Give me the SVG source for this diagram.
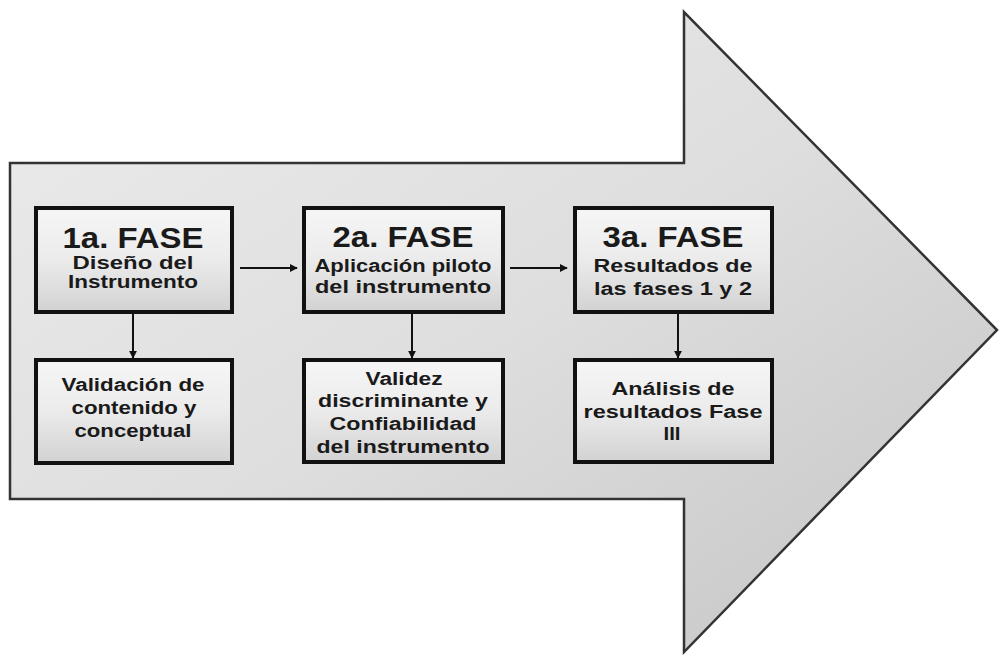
<svg xmlns="http://www.w3.org/2000/svg" width="1000" height="655" viewBox="0 0 1000 655">
<defs>
<linearGradient id="bigGrad" x1="0" y1="0" x2="1" y2="1">
<stop offset="0" stop-color="#ececec"/>
<stop offset="0.5" stop-color="#dedede"/>
<stop offset="1" stop-color="#c4c4c4"/>
</linearGradient>
<linearGradient id="boxGrad" x1="0" y1="0" x2="0" y2="1">
<stop offset="0" stop-color="#f6f6f6"/>
<stop offset="0.5" stop-color="#ebebeb"/>
<stop offset="1" stop-color="#d2d2d2"/>
</linearGradient>
<marker id="ah" viewBox="0 0 10 10" refX="9" refY="5" markerWidth="8" markerHeight="8" markerUnits="userSpaceOnUse" orient="auto">
<path d="M0,0 L10,5 L0,10 z" fill="#111"/>
</marker>
</defs>
<style>
.box{fill:url(#boxGrad);stroke:#111;stroke-width:4}
.t{font-family:"Liberation Sans",Arial,sans-serif;font-weight:bold;fill:#1a1a1a;text-anchor:middle}
.title{font-size:29px}
.sub{font-size:18px}
.conn{stroke:#111;stroke-width:2;fill:none;marker-end:url(#ah)}
</style>
<rect width="1000" height="655" fill="#ffffff"/>
<g id="bigArrow">
<path d="M10,163 L684,163 L684,12 L997,330 L684,652 L684,499 L10,499 Z" fill="url(#bigGrad)" stroke="#333" stroke-width="2.5" stroke-linejoin="miter"/>
</g>
<g id="connectors">
<line class="conn" x1="240" y1="268" x2="297" y2="268"/>
<line class="conn" x1="510" y1="268" x2="567" y2="268"/>
<line class="conn" x1="133" y1="314" x2="133" y2="358"/>
<line class="conn" x1="412" y1="314" x2="412" y2="358"/>
<line class="conn" x1="678" y1="314" x2="678" y2="358"/>
</g>
<g id="fase1">
<rect class="box" x="36" y="208" width="196" height="104"/>
<text class="t title" x="133" y="248" textLength="141" lengthAdjust="spacingAndGlyphs">1a. FASE</text>
<text class="t sub" x="133" y="269" textLength="121" lengthAdjust="spacingAndGlyphs">Diseño del</text>
<text class="t sub" x="133" y="288" textLength="130" lengthAdjust="spacingAndGlyphs">Instrumento</text>
</g>
<g id="fase2">
<rect class="box" x="304" y="208" width="199" height="104"/>
<text class="t title" x="403" y="247" textLength="141" lengthAdjust="spacingAndGlyphs">2a. FASE</text>
<text class="t sub" x="403" y="272" textLength="177" lengthAdjust="spacingAndGlyphs">Aplicación piloto</text>
<text class="t sub" x="403" y="293" textLength="176" lengthAdjust="spacingAndGlyphs">del instrumento</text>
</g>
<g id="fase3">
<rect class="box" x="575" y="208" width="197" height="104"/>
<text class="t title" x="673" y="247" textLength="141" lengthAdjust="spacingAndGlyphs">3a. FASE</text>
<text class="t sub" x="673" y="272" textLength="159" lengthAdjust="spacingAndGlyphs">Resultados de</text>
<text class="t sub" x="673" y="295" textLength="158" lengthAdjust="spacingAndGlyphs">las fases 1 y 2</text>
</g>
<g id="validacion">
<rect class="box" x="36" y="360" width="196" height="103"/>
<text class="t sub" x="133" y="391" textLength="143" lengthAdjust="spacingAndGlyphs">Validación de</text>
<text class="t sub" x="134" y="414" textLength="125" lengthAdjust="spacingAndGlyphs">contenido y</text>
<text class="t sub" x="133" y="437" textLength="117" lengthAdjust="spacingAndGlyphs">conceptual</text>
</g>
<g id="validez">
<rect class="box" x="304" y="360" width="199" height="102"/>
<text class="t sub" x="404" y="385" textLength="77" lengthAdjust="spacingAndGlyphs">Validez</text>
<text class="t sub" x="403" y="407" textLength="170" lengthAdjust="spacingAndGlyphs">discriminante y</text>
<text class="t sub" x="403" y="430" textLength="147" lengthAdjust="spacingAndGlyphs">Confiabilidad</text>
<text class="t sub" x="403" y="453" textLength="173" lengthAdjust="spacingAndGlyphs">del instrumento</text>
</g>
<g id="analisis">
<rect class="box" x="575" y="360" width="197" height="102"/>
<text class="t sub" x="673" y="395" textLength="123" lengthAdjust="spacingAndGlyphs">Análisis de</text>
<text class="t sub" x="673" y="418" textLength="179" lengthAdjust="spacingAndGlyphs">resultados Fase</text>
<text class="t sub" x="672" y="440" textLength="17" lengthAdjust="spacingAndGlyphs">III</text>
</g>
</svg>
